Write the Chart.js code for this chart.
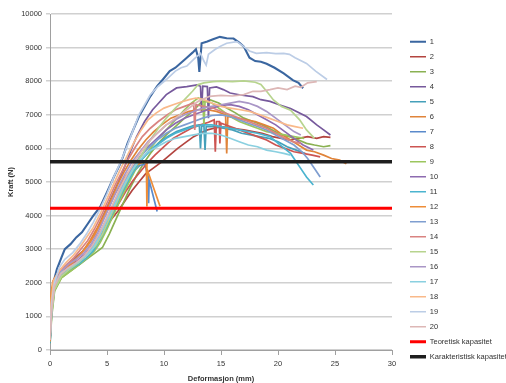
<!DOCTYPE html>
<html>
<head>
<meta charset="utf-8">
<script src="https://cdn.jsdelivr.net/npm/chart.js@4.4.0/dist/chart.umd.min.js"></script>
<style>
  html, body { margin: 0; padding: 0; background: #ffffff; }
  #wrap { width: 506px; height: 383px; }
</style>
</head>
<body>
<div id="wrap"><canvas id="chart" width="506" height="383"></canvas></div>
<script>
// Force (N) against deformation (mm) for each test specimen, as [deformation, force] pairs
const test1 = [[0,250],[0.1,1300],[0.3,2000],[0.6,2400],[1,2750],[1.3,3000],[1.8,3150],[2.3,3350],[2.8,3500],[3.3,3750],[3.8,4000],[4.4,4260],[5,4700],[5.6,5150],[6.1,5500],[6.4,5750],[6.8,6150],[7.3,6550],[7.8,6950],[8.3,7250],[8.8,7550],[9.4,7850],[9.9,8050],[10.5,8300],[11,8400],[11.5,8550],[12,8700],[12.5,8850],[12.8,8950],[13.0,8700],[13.1,8280],[13.3,9130],[13.8,9180],[14.3,9250],[14.9,9320],[15.5,9280],[16.1,9270],[16.6,9150],[17,9030],[17.5,8700],[18,8600],[18.5,8580],[19,8520],[19.7,8400],[20.5,8230],[21.3,8030],[21.8,7950],[22.2,7790]];
const test2 = [[0,350],[0.15,1250],[0.4,1900],[0.9,2250],[1.6,2450],[2.3,2600],[3,2800],[3.6,3050],[4.2,3300],[4.8,3600],[5.4,3900],[6,4150],[6.6,4450],[7.2,4750],[7.8,5000],[8.4,5250],[9,5400],[9.8,5600],[10.5,5800],[11.2,6000],[12,6200],[12.6,6350],[13.2,6450],[13.8,6550],[14.4,6600],[15,6650],[15.6,6620],[16.3,6580],[17,6550],[17.8,6500],[18.6,6450],[19.5,6350],[20.3,6300],[21,6250],[21.8,6300],[22.6,6350],[23.4,6300],[24,6350],[24.6,6330]];
const test3 = [[0,200],[0.15,1000],[0.4,1750],[1,2150],[1.8,2350],[2.6,2550],[3.4,2750],[4,2900],[4.6,3050],[5.2,3450],[5.8,3900],[6.4,4350],[7,4800],[7.6,5200],[8.2,5550],[8.8,5850],[9.5,6150],[10.2,6400],[11,6650],[11.8,6900],[12.5,7100],[13.2,7350],[14,7450],[14.8,7350],[15.5,7200],[16.3,7050],[17,6900],[17.8,6800],[18.6,6700],[19.5,6550],[20.3,6400],[21,6350],[21.8,6250],[22.5,6150],[23.2,6100],[24,6050],[24.6,6080]];
const test4 = [[0,300],[0.15,1300],[0.4,1950],[0.9,2300],[1.5,2550],[2.2,2750],[2.9,2950],[3.6,3250],[4.2,3650],[4.8,4100],[5.4,4550],[6,5000],[6.6,5500],[7.1,5950],[7.6,6350],[8.3,6800],[9,7150],[9.4,7300],[10.2,7600],[11.1,7800],[12,7840],[12.9,7890],[13.2,7850],[13.3,7100],[13.4,7850],[13.8,7840],[13.9,6900],[14.0,7800],[14.6,7830],[15.2,7750],[15.8,7650],[16.7,7590],[17.8,7540],[18.5,7450],[19.3,7400],[20.1,7300],[21.1,7190],[22.5,6950],[23.4,6700],[24,6550],[24.6,6400]];
const test5 = [[0,200],[0.15,1150],[0.4,1850],[1,2200],[1.8,2400],[2.6,2550],[3.3,2750],[3.9,3000],[4.5,3350],[5.1,3750],[5.7,4200],[6.3,4650],[6.9,5050],[7.5,5400],[8.1,5700],[8.8,5950],[9.5,6150],[10.3,6350],[11.1,6500],[11.9,6600],[12.6,6680],[13.1,6700],[13.2,6000],[13.3,6650],[13.5,6700],[13.6,5950],[13.7,6650],[14.4,6650],[15.2,6600],[16,6550],[16.8,6450],[17.6,6400],[18.4,6350],[19.2,6300],[20,6200],[20.8,6050],[21.6,5950],[22.4,5850]];
const test6 = [[0,300],[0.1,1500],[0.3,2000],[0.8,2300],[1.5,2500],[2.2,2700],[2.9,2950],[3.5,3250],[4.1,3600],[4.7,4000],[5.3,4450],[5.9,4900],[6.5,5300],[7.1,5650],[7.7,5950],[8.4,6250],[9.1,6500],[9.8,6700],[10.6,6900],[11.4,7000],[12.2,7100],[13,7150],[13.8,7150],[14.6,7100],[15.4,7000],[15.5,5850],[15.6,6950],[16.4,6900],[17.2,6850],[18,6800],[18.8,6700],[19.6,6600],[20.4,6400],[21.1,6250],[21.8,6100],[22.5,5950],[23.2,5900],[24,5800],[24.7,5700],[25.4,5650],[26,5540]];
const test7 = [[0,300],[0.15,1300],[0.4,1950],[1,2300],[1.7,2450],[2.4,2600],[3.1,2800],[3.7,3100],[4.3,3450],[4.9,3850],[5.5,4250],[6.1,4650],[6.7,5000],[7.3,5300],[7.9,5500],[8.35,5520],[8.6,5120],[8.65,4370],[8.7,5050],[9.4,4120]];
const test8 = [[0,400],[0.15,1300],[0.4,1950],[1,2300],[1.7,2500],[2.4,2650],[3.1,2850],[3.7,3100],[4.3,3400],[4.9,3750],[5.5,4050],[6.1,4400],[6.7,4750],[7.3,5050],[7.9,5300],[8.5,5550],[9.2,5800],[10,6050],[10.8,6300],[11.6,6450],[12.4,6600],[13.2,6700],[13.9,6780],[14.4,6850],[14.5,5900],[14.6,6800],[14.85,6800],[14.9,6150],[15,6750],[15.8,6650],[16.6,6550],[17.4,6450],[18.2,6350],[19,6250],[19.8,6100],[20.6,6000],[21.4,5900],[22.2,5850],[23,5800],[23.7,5750]];
const test9 = [[0,250],[0.15,1100],[0.4,1800],[1,2150],[1.8,2350],[2.6,2550],[3.3,2750],[3.9,2950],[4.4,3200],[5,3600],[5.6,4050],[6.2,4500],[6.8,4900],[7.4,5300],[8,5650],[8.7,5950],[9.4,6250],[10.2,6550],[11,6850],[11.8,7150],[12.4,7350],[13,7500],[13.4,7450],[13.5,6700],[13.6,7400],[14.2,7350],[15,7150],[15.8,6950],[16.6,6800],[17.4,6700],[18.2,6600],[19,6500],[19.8,6450],[20.6,6400],[21.4,6350],[22.3,6300]];
const test10 = [[0,300],[0.15,1200],[0.4,1900],[1,2250],[1.7,2450],[2.4,2650],[3.1,2850],[3.7,3100],[4.3,3450],[4.9,3850],[5.5,4300],[6.1,4750],[6.7,5150],[7.3,5450],[7.9,5750],[8.6,6050],[9.4,6300],[10.2,6550],[11,6750],[11.8,6900],[12.6,7000],[13.4,7100],[14.2,7200],[15,7280],[15.8,7300],[16.6,7250],[17.4,7150],[18.2,7000],[19,6850],[19.8,6700],[20.6,6500],[21.4,6300],[22.2,6100],[23.1,5950]];
const test11 = [[0,250],[0.15,1200],[0.4,1900],[1,2250],[1.7,2400],[2.5,2550],[3.2,2750],[3.8,2950],[4.4,3300],[5,3700],[5.6,4150],[6.2,4600],[6.8,5000],[7.4,5350],[8,5650],[8.7,5900],[9.4,6100],[10.2,6300],[11,6450],[11.8,6550],[12.6,6650],[13.4,6700],[14.2,6700],[15,6650],[15.8,6600],[16.6,6550],[17.4,6500],[18.2,6450],[19.3,6350],[20.2,6100],[21.1,5850],[21.9,5450],[22.5,5150],[23.1,4910]];
const test12 = [[0,250],[0.1,1700],[0.25,2050],[0.7,2300],[1.3,2450],[2,2600],[2.7,2850],[3.3,3100],[3.9,3400],[4.5,3800],[5.1,4200],[5.7,4650],[6.3,5000],[6.9,5300],[7.5,5500],[8.1,5580],[8.45,5620],[8.5,4270],[8.55,5350],[9.65,4280]];
const test13 = [[0,300],[0.15,1250],[0.4,1900],[1,2250],[1.7,2450],[2.4,2600],[3.1,2800],[3.7,3050],[4.3,3400],[4.9,3800],[5.5,4250],[6.1,4700],[6.7,5100],[7.3,5450],[7.9,5750],[8.6,6000],[9.4,6250],[10.2,6450],[11,6600],[11.8,6700],[12.6,6800],[13.4,6900],[14.2,6980],[15,7000],[15.8,6950],[16.6,6850],[17.4,6750],[18.2,6650],[19,6550],[19.8,6400],[20.6,6250],[21.4,6100],[22.1,5900],[22.6,5700],[23.2,5400],[23.7,5150]];
const test14 = [[0,500],[0.15,1500],[0.4,2050],[0.9,2400],[1.5,2550],[2.1,2750],[2.7,3000],[3.3,3250],[3.9,3600],[4.5,4000],[5.1,4450],[5.7,4900],[6.3,5300],[6.9,5700],[7.5,6050],[8.1,6350],[8.8,6600],[9.5,6800],[10.3,7000],[11,7150],[11.8,7250],[12.6,7350],[12.7,6550],[12.8,7300],[13.5,7250],[14.3,7200],[15,7100],[15.8,7000],[16.6,6900],[17.4,6800],[18.2,6700],[19,6600],[19.8,6450],[20.6,6300],[21.3,6200],[22,6150]];
const test15 = [[0,350],[0.15,1100],[0.4,1800],[1,2200],[1.7,2400],[2.5,2600],[3.3,2850],[4,3100],[4.6,3450],[5.2,3900],[5.8,4350],[6.4,4800],[7,5200],[7.6,5550],[8.2,5900],[8.8,6250],[9.5,6600],[10.2,6900],[11,7200],[11.8,7450],[12.5,7700],[13,7900],[13.5,7950],[14.3,7990],[15,8000],[16,7990],[17,8010],[18,7970],[18.5,7900],[19,7700],[19.6,7440],[20.3,7250],[21.1,7140],[21.9,6850],[22.5,6550],[23.2,6300]];
const test16 = [[0,400],[0.15,1350],[0.4,2000],[1,2350],[1.6,2550],[2.3,2700],[3,2900],[3.6,3150],[4.2,3500],[4.8,3950],[5.4,4400],[6,4850],[6.6,5250],[7.2,5600],[7.9,5900],[8.6,6200],[9.4,6450],[10.2,6700],[11,6850],[11.8,7000],[12.6,7100],[13.4,7200],[14.2,7250],[15,7300],[15.8,7350],[16.6,7400],[17.4,7350],[18.2,7250],[19,7100],[19.8,6900],[20.6,6700],[21.4,6500],[22,6400]];
const test17 = [[0,350],[0.15,1300],[0.4,1950],[1,2300],[1.7,2450],[2.4,2600],[3.1,2800],[3.7,3000],[4.3,3350],[4.9,3800],[5.5,4200],[6.1,4650],[6.7,5050],[7.3,5400],[7.9,5650],[8.6,5900],[9.4,6050],[10.2,6200],[11,6300],[11.8,6350],[12.6,6400],[13.4,6450],[14.2,6450],[15,6400],[15.8,6300],[16.6,6200],[17.4,6100],[18.2,6050],[19,5950],[19.8,5900],[20.5,5850],[21.1,5800]];
const test18 = [[0,300],[0.1,1400],[0.3,2050],[0.8,2350],[1.4,2600],[2,2800],[2.6,3050],[3.2,3350],[3.8,3650],[4.4,4050],[5,4500],[5.6,4950],[6.2,5400],[6.8,5800],[7.4,6200],[8,6550],[8.6,6850],[9.3,7050],[10,7200],[10.8,7300],[11.5,7380],[12.2,7450],[12.8,7500],[13.5,7450],[14.2,7350],[15,7250],[15.8,7200],[16.7,7150],[17.5,7100],[18.4,7000],[19.2,6900],[20,6800],[20.8,6700],[21.5,6650],[22.2,6600]];
const test19 = [[0,400],[0.15,1400],[0.4,2000],[0.8,2450],[1.3,2700],[2,2900],[2.6,3150],[3.2,3450],[3.8,3800],[4.4,4200],[5,4650],[5.6,5150],[6.2,5600],[6.8,6100],[7.3,6550],[7.8,7000],[8.3,7300],[8.8,7600],[9.5,7850],[10.2,8050],[11,8300],[11.5,8400],[12,8450],[12.6,8650],[13.2,8830],[13.5,8600],[13.7,8480],[13.9,8800],[14.5,8950],[15,9050],[15.5,9130],[16.4,9180],[17,9030],[17.5,8900],[18.1,8830],[19,8850],[19.8,8820],[20.5,8830],[21,8800],[21.5,8700],[22.5,8530],[23.3,8300],[24.3,8050]];
const test20 = [[0,300],[0.15,1200],[0.4,1900],[0.9,2250],[1.6,2450],[2.3,2600],[3,2800],[3.7,3100],[4.3,3450],[5,3950],[5.6,4400],[6.2,4850],[6.8,5250],[7.4,5600],[8,5900],[8.7,6200],[9.4,6450],[10.2,6700],[11,6900],[12,7150],[13,7400],[14,7550],[15,7580],[16,7560],[17,7600],[17.8,7700],[18.5,7700],[19.3,7750],[20,7800],[20.8,7750],[21.5,7850],[22,7820],[22.6,7950],[23.4,7990]];

const tests = [test1, test2, test3, test4, test5, test6, test7, test8, test9, test10,
               test11, test12, test13, test14, test15, test16, test17, test18, test19, test20];
const testLabels = ['1','2','3','4','5','6','7','8','9','10','11','12','13','14','15','16','17','18','19','20'];

// Capacity levels (N)
const teoretiskKapasitet = 4220;
const karakteristiskKapasitet = 5600;
const capacitySpan = [0, 30];

// Line colours per test
const testColors = ['#3A66A0','#B3443F','#8AB152','#76599C','#45A0BA','#E0843A',
                    '#5A8ACB','#CC5552','#9CC65E','#8D6BB0','#4BB4CF','#EE8D38',
                    '#7F9ED0','#D98381','#B7D48E','#A996C6','#8AD0E0','#F9B98A',
                    '#BCCDE6','#DDB7B6'];

const FONT = "'Liberation Sans', Arial, sans-serif";
const TEXT_COLOR = '#333333';

const datasets = tests.map((pts, i) => ({
  label: testLabels[i],
  data: pts.map(p => ({ x: p[0], y: p[1] })),
  borderColor: testColors[i],
  backgroundColor: testColors[i],
  borderWidth: i === 0 ? 2.1 : 1.7,
  order: 40 - i
}));

datasets.push({
  label: 'Teoretisk kapasitet',
  data: capacitySpan.map(x => ({ x: x, y: teoretiskKapasitet })),
  borderColor: '#FF0000',
  backgroundColor: '#FF0000',
  borderWidth: 3,
  order: 1
});
datasets.push({
  label: 'Karakteristisk kapasitet',
  data: capacitySpan.map(x => ({ x: x, y: karakteristiskKapasitet })),
  borderColor: '#1E1E1E',
  backgroundColor: '#1E1E1E',
  borderWidth: 3.5,
  order: 0
});

// Put the legend column at a fixed place to the right of the plot
const legendPlacement = {
  id: 'legendPlacement',
  afterLayout(chart) {
    const lg = chart.legend;
    if (!lg) return;
    const w = lg.width;
    lg.left = 402.5;
    lg.right = lg.left + w;
    lg.top = 30.5;
    lg.bottom = 383;
  }
};

new Chart(document.getElementById('chart'), {
  type: 'scatter',
  data: { datasets: datasets },
  plugins: [legendPlacement],
  options: {
    responsive: false,
    animation: false,
    devicePixelRatio: 1,
    showLine: true,
    elements: {
      point: { radius: 0, hoverRadius: 0 },
      line: { tension: 0, fill: false }
    },
    layout: { padding: { top: 14, right: 0, bottom: 0, left: 0 } },
    plugins: {
      tooltip: { enabled: false },
      legend: {
        position: 'right',
        align: 'start',
        maxWidth: 114,
        labels: {
          usePointStyle: true,
          pointStyle: 'line',
          pointStyleWidth: 16,
          padding: 7.5,
          color: TEXT_COLOR,
          font: { family: FONT, size: 7.5 },
          sort: (a, b) => a.datasetIndex - b.datasetIndex
        }
      }
    },
    scales: {
      x: {
        type: 'linear',
        min: 0,
        max: 30,
        ticks: { stepSize: 5, color: TEXT_COLOR, font: { family: FONT, size: 7.5 }, padding: 4 },
        grid: { drawOnChartArea: false, drawTicks: true, tickLength: 5, color: '#A0A0A0' },
        border: { color: '#A0A0A0', width: 1 },
        title: {
          display: true,
          text: 'Deformasjon (mm)',
          color: TEXT_COLOR,
          font: { family: FONT, size: 7.5, weight: 'bold' },
          padding: { top: 0, bottom: 0 }
        },
        afterFit(scale) { scale.height = 33; }
      },
      y: {
        min: 0,
        max: 10000,
        ticks: {
          stepSize: 1000,
          color: TEXT_COLOR,
          font: { family: FONT, size: 7.5 },
          padding: 4,
          callback: (v) => String(v)
        },
        grid: { color: '#D0D0D0', lineWidth: 1.5, tickLength: 4 },
        border: { color: '#A0A0A0', width: 1 },
        title: {
          display: true,
          text: 'Kraft (N)',
          color: TEXT_COLOR,
          font: { family: FONT, size: 7.5, weight: 'bold' },
          padding: { top: 6, bottom: 0 }
        },
        afterFit(scale) { scale.width = 50; }
      }
    }
  }
});
</script>
</body>
</html>
